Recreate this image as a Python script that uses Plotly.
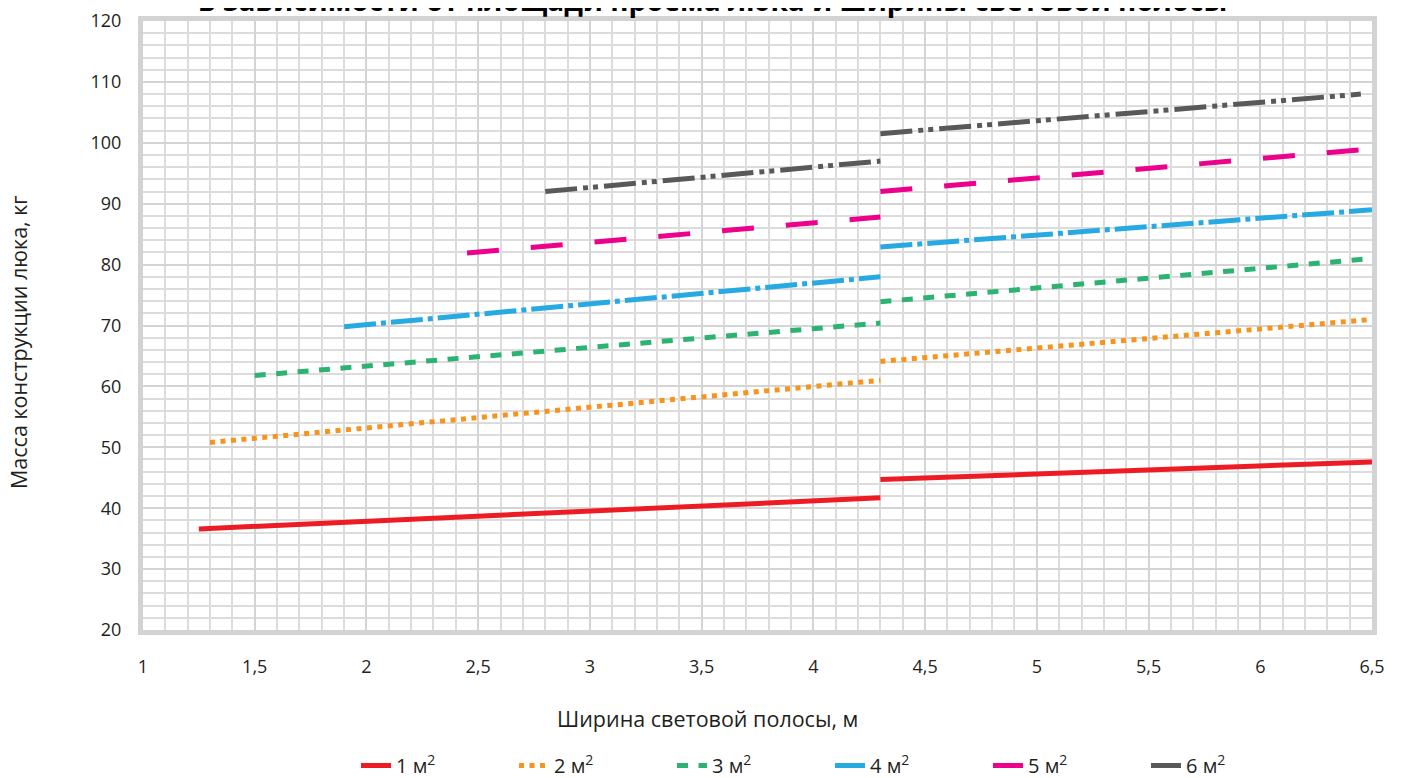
import plotly.graph_objects as go

# Ширина световой полосы, м (segments split at 4.3 m)
names = ["1 м<sup>2</sup>", "2 м<sup>2</sup>", "3 м<sup>2</sup>", "4 м<sup>2</sup>", "5 м<sup>2</sup>", "6 м<sup>2</sup>"]
x_start = [1.25, 1.3, 1.5, 1.9, 2.45, 2.8]
x_break = [4.3, 4.3, 4.3, 4.3, 4.3, 4.3]
x_end = [6.5, 6.5, 6.5, 6.5, 6.5, 6.45]
# masses, kg
y_seg1_start = [36.6, 50.8, 61.8, 69.8, 81.9, 92.0]
y_seg1_end = [41.7, 61.0, 70.4, 78.0, 87.8, 97.0]
y_seg2_start = [44.7, 64.1, 73.9, 82.9, 92.0, 101.5]
y_seg2_end = [47.6, 71.0, 81.0, 89.0, 99.0, 108.0]

colors = ["#ED1C24", "#F7941D", "#2DB371", "#27AAE1", "#EC008C", "#58595B"]
dashes = ["solid", "5px,5.5px", "11px,10.5px", "32px,5px,5px,5px",
          "32px,32px", "32px,6px,5px,5px,5px,6px"]

fig = go.Figure()
for i in range(len(names)):
    fig.add_trace(go.Scatter(
        x=[x_start[i], x_break[i], None, x_break[i], x_end[i]],
        y=[y_seg1_start[i], y_seg1_end[i], None, y_seg2_start[i], y_seg2_end[i]],
        mode="lines", name=names[i], connectgaps=False,
        line=dict(color=colors[i], width=5, dash=dashes[i]),
    ))

font_family = "Open Sans"
txt = "#231F20"
# the page body has an 8px margin, so the figure is drawn 8px in from the top-left
fig.update_layout(
    width=1395, height=770,
    margin=dict(l=135, r=31, t=13, b=148, autoexpand=False),
    paper_bgcolor="white", plot_bgcolor="white",
    font=dict(family=font_family, size=18, color=txt),
    showlegend=True,
    legend=dict(orientation="h", x=0.559, xanchor="center", xref="paper",
                y=-(746 - 630) / 609, yanchor="top", yref="paper",
                font=dict(size=20), entrywidth=113, tracegroupgap=0),
    annotations=[
        dict(text="в зависимости от площади проема люка и ширины световой полосы",
             xref="paper", yref="paper", x=0.463, y=1 + 21 / 609, xanchor="center", yanchor="middle",
             showarrow=False, font=dict(family=font_family, size=28, color="#000000", weight="bold")),
        dict(text="Ширина световой полосы, м", xref="paper", yref="paper",
             x=(707 - 143) / 1229, y=-(718 - 630) / 609, xanchor="center", yanchor="middle",
             showarrow=False, font=dict(size=21.5, color=txt)),
        dict(text="Масса конструкции люка, кг", xref="paper", yref="paper",
             x=-(143 - 18) / 1229, y=(630 - 342) / 609, xanchor="center", yanchor="middle",
             textangle=-90, showarrow=False, font=dict(size=21.5, color=txt)),
    ],
)
fig.update_xaxes(
    range=[1, 6.5], tickmode="array", automargin=False,
    tickvals=[1, 1.5, 2, 2.5, 3, 3.5, 4, 4.5, 5, 5.5, 6, 6.5],
    ticktext=["1", "1,5", "2", "2,5", "3", "3,5", "4", "4,5", "5", "5,5", "6", "6,5"],
    ticks="", ticklabelstandoff=16,
    showgrid=True, gridcolor="#D4D4D4", gridwidth=2,
    minor=dict(dtick=0.1, showgrid=True, gridcolor="#DCDCDC", gridwidth=1.5),
    showline=True, mirror=True, linecolor="#D1D3D4", linewidth=5,
    zeroline=False,
)
fig.update_yaxes(
    range=[20, 120], tickmode="array", automargin=False,
    tickvals=[20, 30, 40, 50, 60, 70, 80, 90, 100, 110, 120],
    ticks="", ticklabelstandoff=13,
    showgrid=True, gridcolor="#D4D4D4", gridwidth=2,
    minor=dict(dtick=2, showgrid=True, gridcolor="#DCDCDC", gridwidth=1.5),
    showline=True, mirror=True, linecolor="#D1D3D4", linewidth=5,
    zeroline=False,
)
fig.write_html("out.html")
